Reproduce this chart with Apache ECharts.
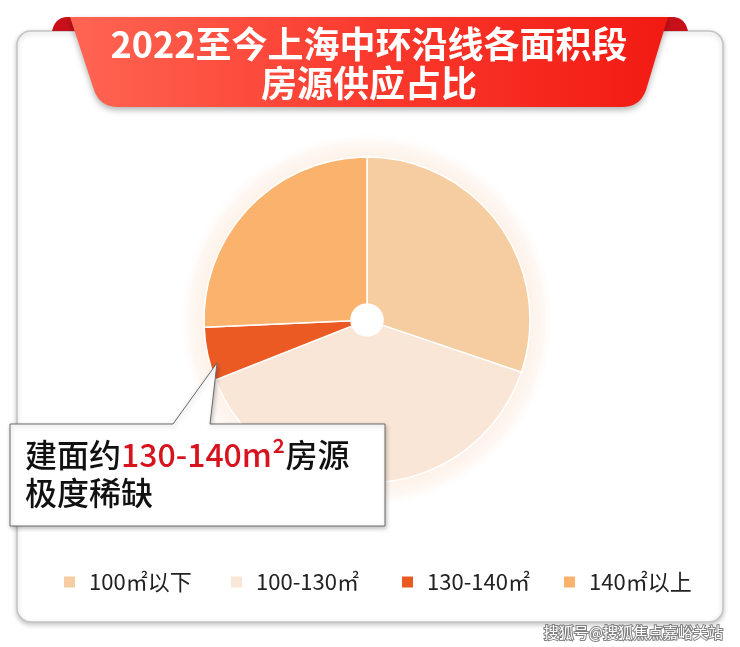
<!DOCTYPE html>
<html>
<head>
<meta charset="utf-8">
<script src="https://cdn.jsdelivr.net/npm/echarts@6/dist/echarts.min.js"></script>
<style>
html,body{margin:0;padding:0;background:#fff;}
#main{width:740px;height:647px;}
</style>
</head>
<body>
<div id="main"></div>
<script>
// ---- data ----
const titleLines = ['2022至今上海中环沿线各面积段', '房源供应占比'];
const categories = ['100㎡以下', '100-130㎡', '130-140㎡', '140㎡以上'];
const shares = [30.2, 38.8, 5.3, 25.7];
const calloutBlack1 = '建面约';
const calloutRed = '130-140m²';
const calloutBlack2 = '房源';
const calloutLine2 = '极度稀缺';
const watermark = '搜狐号@搜狐焦点嘉峪关站';

// ---- styles ----
const palette = ['#F5CDA0', '#FAE6D6', '#EC5A24', '#FAB26C'];
const FONT = '"Noto Sans CJK SC", "Noto Sans", sans-serif';
const legendLefts = [57, 224, 395, 557];
const cx = 367, cy = 320, rOuter = 163, rInner = 16;

// quadratic curve sampler for decorative shapes
function quad(p0, c, p1, n) {
  const pts = [];
  for (let i = 0; i <= n; i++) {
    const t = i / n, u = 1 - t;
    pts.push([u * u * p0[0] + 2 * u * t * c[0] + t * t * p1[0],
              u * u * p0[1] + 2 * u * t * c[1] + t * t * p1[1]]);
  }
  return pts;
}

const ribbonPts = [[70, 17], [668, 17], [646, 90]]
  .concat(quad([646, 90], [640, 107], [622, 107], 10))
  .concat([[118, 107]])
  .concat(quad([118, 107], [100, 107], [94, 90], 10));
const foldL = quad([52, 31], [55, 18], [66, 17], 8).concat([[73, 17], [78, 31]]);
const foldR = quad([688, 31], [685, 18], [674, 17], 8).concat([[667, 17], [662, 31]]);
const calloutPts = [[10, 424], [173, 424], [217, 363], [210, 424], [385, 424], [385, 526], [10, 526]];

const chart = echarts.init(document.getElementById('main'), null, {renderer: 'canvas'});

const legends = categories.map((name, i) => ({
  data: [name],
  left: legendLefts[i],
  top: 566,
  orient: 'horizontal',
  itemWidth: 13,
  itemHeight: 13,
  icon: 'rect',
  selectedMode: false,
  textStyle: {
    fontFamily: FONT,
    fontSize: 22,
    color: '#222',
    padding: [0, 0, 0, 8]
  }
}));

const option = {
  backgroundColor: '#ffffff',
  animation: false,
  color: palette,
  legend: legends,
  graphic: {
    elements: [
      {
        type: 'rect', z: 0,
        shape: {x: 17, y: 31, width: 706, height: 591, r: 14},
        style: {fill: '#ffffff', stroke: '#c4c4c4', lineWidth: 1.5,
                shadowBlur: 5, shadowOffsetY: 2, shadowColor: 'rgba(0,0,0,0.22)'}
      },
      {
        type: 'circle', z: 1,
        shape: {cx: cx, cy: cy, r: 188},
        style: {
          fill: {
            type: 'radial', x: 0.5, y: 0.5, r: 0.5,
            colorStops: [
              {offset: 0, color: '#FDF2E9'},
              {offset: 0.86, color: '#FDF2E9'},
              {offset: 0.94, color: '#FEF7F2'},
              {offset: 1, color: 'rgba(255,255,255,0)'}
            ]
          }
        }
      },
      { type: 'circle', z: 5, shape: {cx: cx, cy: cy, r: rInner}, style: {fill: '#ffffff'} },
      { type: 'polygon', z: 9, shape: {points: foldL}, style: {fill: '#C8101A'} },
      { type: 'polygon', z: 9, shape: {points: foldR}, style: {fill: '#C8101A'} },
      {
        type: 'polygon', z: 10,
        shape: {points: ribbonPts},
        style: {
          fill: {
            type: 'linear', x: 0, y: 0, x2: 1, y2: 0,
            colorStops: [
              {offset: 0, color: '#FF6553'},
              {offset: 0.5, color: '#FA3A2E'},
              {offset: 1, color: '#F21A12'}
            ]
          },
          shadowBlur: 6, shadowOffsetY: 3, shadowColor: 'rgba(0,0,0,0.3)'
        }
      },
      {
        type: 'text', z: 11,
        x: 369, y: 25,
        style: {
          text: titleLines.join('\n'),
          fill: '#ffffff',
          fontFamily: FONT,
          fontWeight: 'bold',
          fontSize: 36,
          lineHeight: 39,
          align: 'center',
          verticalAlign: 'top'
        }
      },
      {
        type: 'polygon', z: 20,
        shape: {points: calloutPts},
        style: {fill: '#ffffff', stroke: '#6a6a6a', lineWidth: 1,
                shadowBlur: 4, shadowOffsetX: 1, shadowOffsetY: 2, shadowColor: 'rgba(0,0,0,0.25)'}
      },
      {
        type: 'text', z: 21,
        x: 25, y: 436,
        style: {
          text: '{b|' + calloutBlack1 + '}{r|' + calloutRed + '}{b|' + calloutBlack2 + '}\n{b|' + calloutLine2 + '}',
          align: 'left',
          verticalAlign: 'top',
          rich: {
            b: {fontFamily: FONT, fontSize: 32, fontWeight: 500, lineHeight: 38, fill: '#111111'},
            r: {fontFamily: FONT, fontSize: 32, fontWeight: 500, lineHeight: 38, fill: '#D7141E'}
          }
        }
      },
      {
        type: 'text', z: 30,
        x: 723, y: 632,
        style: {
          text: watermark,
          fill: '#ffffff',
          stroke: '#808080',
          lineWidth: 2,
          fontFamily: FONT,
          fontSize: 15,
          align: 'right',
          verticalAlign: 'middle'
        }
      }
    ]
  },
  series: [{
    type: 'pie',
    z: 2,
    center: [cx, cy],
    radius: [rInner, rOuter],
    startAngle: 90,
    clockwise: true,
    label: {show: false},
    labelLine: {show: false},
    emphasis: {disabled: true},
    itemStyle: {borderColor: '#ffffff', borderWidth: 1.5},
    data: categories.map((name, i) => ({name: name, value: shares[i]}))
  }]
};

chart.setOption(option);
</script>
</body>
</html>
